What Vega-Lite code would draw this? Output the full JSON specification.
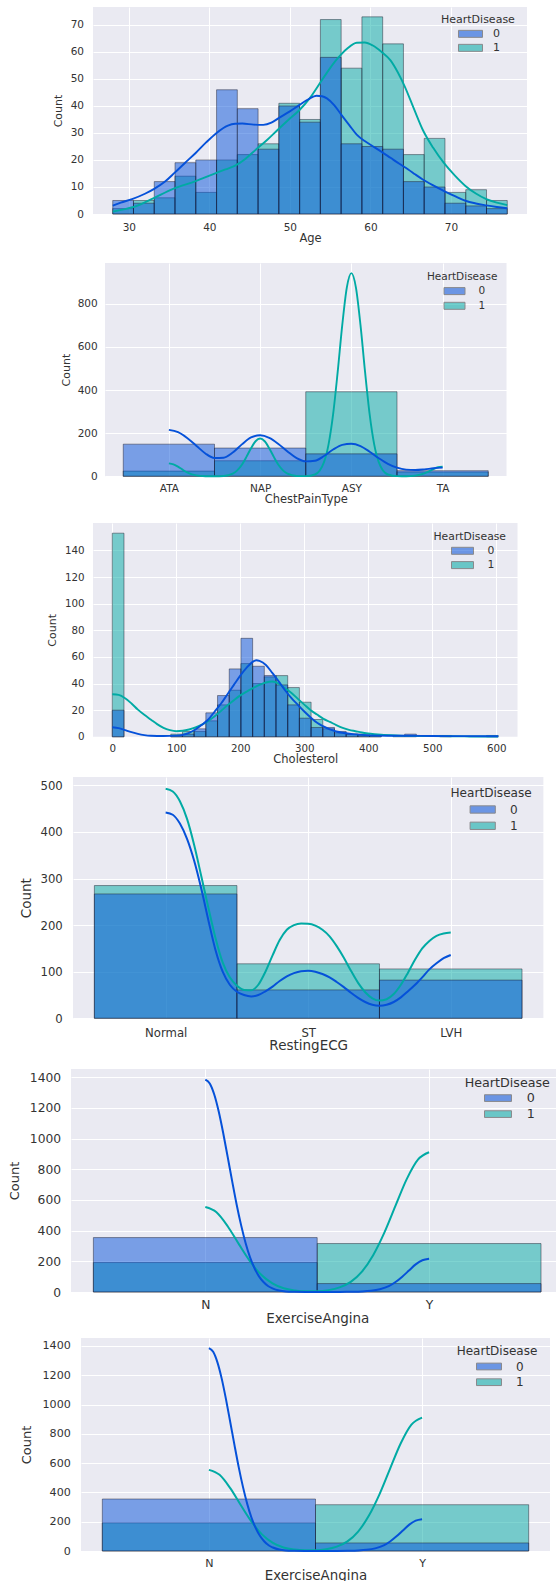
{
"$schema": "https://vega.github.io/schema/vega-lite/v6.json",
"background": "white",
"padding": {"left": 0, "top": 7, "right": 0, "bottom": 0},
"spacing": 0,
"resolve": {"scale": {"color": "independent"}, "legend": {"color": "independent"}},
"config": {
  "font": "DejaVu Sans",
  "view": {"fill": "#EAEAF2", "stroke": null},
  "axis": {"domain": false, "ticks": false, "grid": true, "gridColor": "#ffffff", "gridWidth": 1, "labelColor": "#333333", "titleColor": "#333333", "titleFontWeight": "normal", "labelFont": "DejaVu Sans", "titleFont": "DejaVu Sans", "labelFlush": false, "labelOverlap": false, "titlePadding": 0},
  "legend": {"titleFont": "DejaVu Sans", "labelFont": "DejaVu Sans", "titleFontWeight": "normal", "titleColor": "#333333", "labelColor": "#333333", "orient": "none", "padding": 0, "symbolStrokeColor": "#3a3a3a", "symbolStrokeWidth": 1, "symbolOpacity": 0.55}
},
"vconcat": [
{"spacing": 0, "resolve": {"scale": {"color": "independent"}, "legend": {"color": "independent"}}, "hconcat": [
{"width": 51.35, "height": 1, "view": {"fill": null, "stroke": null}, "data": {"values": []}, "mark": {"type": "point", "opacity": 0}, "encoding": {}},
{
  "width": 434, "height": 207,
  "encoding": {
    "x": {"field": "x", "type": "quantitative", "scale": {"domain": [25.55, 79.45], "nice": false, "zero": false},
      "axis": {"values": [30, 40, 50, 60, 70], "labelFontSize": 10.5, "labelPadding": 8, "title": ["Age", " "], "titleFontSize": 11.5, "titleBaseline": "top", "titleLineHeight": 18.5, "minExtent": 18.25, "maxExtent": 18.25}},
    "y": {"field": "count", "type": "quantitative", "stack": null, "scale": {"domain": [0, 76.65], "nice": false},
      "axis": {"values": [0, 10, 20, 30, 40, 50, 60, 70], "format": "d", "labelFontSize": 10.5, "labelPadding": 9.5, "title": "Count", "titleFontSize": 11, "titleBaseline": "bottom", "minExtent": 29.65, "maxExtent": 29.65}}
  },
  "layer": [
    {"data": {"name": "p1_hist"}, "transform": [{"filter": "datum.hd == '1'"}], "mark": {"type": "rect", "fillOpacity": 0.5, "stroke": "#1a1a2a", "strokeOpacity": 0.45, "strokeWidth": 1},
     "encoding": {"x2": {"field": "x2"}, "y2": {"datum": 0}, "color": {"field": "hd", "type": "nominal", "scale": {"domain": ["0", "1"], "range": ["#0551d9", "#00aaa4"]},
       "legend": {"title": "HeartDisease", "legendX": 348, "legendY": 7.35, "titleFontSize": 11, "labelFontSize": 11, "titlePadding": 2, "rowPadding": 2, "symbolSize": 144, "symbolType": "M1.833,-0.583H5.833V0.583H1.833Z", "labelOffset": 39}}}},
    {"data": {"name": "p1_hist"}, "transform": [{"filter": "datum.hd == '0'"}], "mark": {"type": "rect", "fillOpacity": 0.5, "stroke": "#1a1a2a", "strokeOpacity": 0.45, "strokeWidth": 1},
     "encoding": {"x2": {"field": "x2"}, "y2": {"datum": 0}, "color": {"field": "hd", "type": "nominal", "scale": {"domain": ["0", "1"], "range": ["#0551d9", "#00aaa4"]},
       "legend": {"title": "HeartDisease", "legendX": 348, "legendY": 7.35, "titleFontSize": 11, "labelFontSize": 11, "titlePadding": 2, "rowPadding": 2, "symbolSize": 144, "symbolType": "M1.833,-0.583H5.833V0.583H1.833Z", "labelOffset": 39}}}},
    {"data": {"name": "p1_kde"}, "transform": [{"filter": "datum.hd == '1'"}], "mark": {"type": "line", "color": "#00aaa4", "strokeWidth": 1.9, "interpolate": "monotone"}, "encoding": {}},
    {"data": {"name": "p1_kde"}, "transform": [{"filter": "datum.hd == '0'"}], "mark": {"type": "line", "color": "#0551d9", "strokeWidth": 1.9, "interpolate": "monotone"}, "encoding": {}}
  ]
}]},
{"spacing": 0, "resolve": {"scale": {"color": "independent"}, "legend": {"color": "independent"}}, "hconcat": [
{"width": 59.45, "height": 1, "view": {"fill": null, "stroke": null}, "data": {"values": []}, "mark": {"type": "point", "opacity": 0}, "encoding": {}},
{
  "width": 401.5, "height": 213.3,
  "encoding": {
    "x": {"field": "x", "type": "quantitative", "scale": {"domain": [-0.7, 3.7], "nice": false, "zero": false},
      "axis": {"values": [0, 1, 2, 3], "labelExpr": "['ATA','NAP','ASY','TA'][datum.value]", "labelFontSize": 10.5, "labelPadding": 6.9, "title": ["ChestPainType", " "], "titleFontSize": 11.5, "titleBaseline": "top", "titleLineHeight": 17.5, "minExtent": 17.25, "maxExtent": 17.25}},
    "y": {"field": "count", "type": "quantitative", "stack": null, "scale": {"domain": [0, 989], "nice": false},
      "axis": {"values": [0, 200, 400, 600, 800], "format": "d", "labelFontSize": 10.5, "labelPadding": 7.8, "title": "Count", "titleFontSize": 11, "titleBaseline": "bottom", "minExtent": 33.05, "maxExtent": 33.05}}
  },
  "layer": [
    {"data": {"name": "p2_hist"}, "transform": [{"filter": "datum.hd == '1'"}], "mark": {"type": "rect", "fillOpacity": 0.5, "stroke": "#1a1a2a", "strokeOpacity": 0.45, "strokeWidth": 1},
     "encoding": {"x2": {"field": "x2"}, "y2": {"datum": 0}, "color": {"field": "hd", "type": "nominal", "scale": {"domain": ["0", "1"], "range": ["#0551d9", "#00aaa4"]},
       "legend": {"title": "HeartDisease", "legendX": 321.9, "legendY": 8.6, "titleFontSize": 10.5, "labelFontSize": 10.5, "titlePadding": 2.5, "rowPadding": 2.7, "symbolSize": 144, "symbolType": "M1.767,-0.583H5.267V0.583H1.767Z", "labelOffset": 38.6}}}},
    {"data": {"name": "p2_hist"}, "transform": [{"filter": "datum.hd == '0'"}], "mark": {"type": "rect", "fillOpacity": 0.5, "stroke": "#1a1a2a", "strokeOpacity": 0.45, "strokeWidth": 1},
     "encoding": {"x2": {"field": "x2"}, "y2": {"datum": 0}, "color": {"field": "hd", "type": "nominal", "scale": {"domain": ["0", "1"], "range": ["#0551d9", "#00aaa4"]},
       "legend": {"title": "HeartDisease", "legendX": 321.9, "legendY": 8.6, "titleFontSize": 10.5, "labelFontSize": 10.5, "titlePadding": 2.5, "rowPadding": 2.7, "symbolSize": 144, "symbolType": "M1.767,-0.583H5.267V0.583H1.767Z", "labelOffset": 38.6}}}},
    {"data": {"name": "p2_kde"}, "transform": [{"filter": "datum.hd == '1'"}], "mark": {"type": "line", "color": "#00aaa4", "strokeWidth": 1.9, "interpolate": "monotone"}, "encoding": {}},
    {"data": {"name": "p2_kde"}, "transform": [{"filter": "datum.hd == '0'"}], "mark": {"type": "line", "color": "#0551d9", "strokeWidth": 1.9, "interpolate": "monotone"}, "encoding": {}}
  ]
}]},
{"spacing": 0, "resolve": {"scale": {"color": "independent"}, "legend": {"color": "independent"}}, "hconcat": [
{"width": 45.45, "height": 1, "view": {"fill": null, "stroke": null}, "data": {"values": []}, "mark": {"type": "point", "opacity": 0}, "encoding": {}},
{
  "width": 424.5, "height": 213.8,
  "encoding": {
    "x": {"field": "x", "type": "quantitative", "scale": {"domain": [-30.15, 633.15], "nice": false, "zero": false},
      "axis": {"values": [0, 100, 200, 300, 400, 500, 600], "format": "d", "labelFontSize": 10.3, "labelPadding": 6.5, "title": ["Cholesterol", " "], "titleFontSize": 11.5, "titleBaseline": "top", "titleLineHeight": 11, "minExtent": 16.75, "maxExtent": 16.75}},
    "y": {"field": "count", "type": "quantitative", "stack": null, "scale": {"domain": [0, 160.65], "nice": false},
      "axis": {"values": [0, 20, 40, 60, 80, 100, 120, 140], "format": "d", "labelFontSize": 10.3, "labelPadding": 8.9, "title": "Count", "titleFontSize": 11, "titleBaseline": "bottom", "minExtent": 35.05, "maxExtent": 35.05}}
  },
  "layer": [
    {"data": {"name": "p3_hist"}, "transform": [{"filter": "datum.hd == '1'"}], "mark": {"type": "rect", "fillOpacity": 0.5, "stroke": "#1a1a2a", "strokeOpacity": 0.45, "strokeWidth": 1},
     "encoding": {"x2": {"field": "x2"}, "y2": {"datum": 0}, "color": {"field": "hd", "type": "nominal", "scale": {"domain": ["0", "1"], "range": ["#0551d9", "#00aaa4"]},
       "legend": {"title": "HeartDisease", "legendX": 340.5, "legendY": 7.74, "titleFontSize": 10.8, "labelFontSize": 10.8, "titlePadding": 2.76, "rowPadding": 2.3, "symbolSize": 144, "symbolType": "M1.917,-0.583H5.583V0.583H1.917Z", "labelOffset": 41}}}},
    {"data": {"name": "p3_hist"}, "transform": [{"filter": "datum.hd == '0'"}], "mark": {"type": "rect", "fillOpacity": 0.5, "stroke": "#1a1a2a", "strokeOpacity": 0.45, "strokeWidth": 1},
     "encoding": {"x2": {"field": "x2"}, "y2": {"datum": 0}, "color": {"field": "hd", "type": "nominal", "scale": {"domain": ["0", "1"], "range": ["#0551d9", "#00aaa4"]},
       "legend": {"title": "HeartDisease", "legendX": 340.5, "legendY": 7.74, "titleFontSize": 10.8, "labelFontSize": 10.8, "titlePadding": 2.76, "rowPadding": 2.3, "symbolSize": 144, "symbolType": "M1.917,-0.583H5.583V0.583H1.917Z", "labelOffset": 41}}}},
    {"data": {"name": "p3_kde"}, "transform": [{"filter": "datum.hd == '1'"}], "mark": {"type": "line", "color": "#00aaa4", "strokeWidth": 1.9, "interpolate": "monotone"}, "encoding": {}},
    {"data": {"name": "p3_kde"}, "transform": [{"filter": "datum.hd == '0'"}], "mark": {"type": "line", "color": "#0551d9", "strokeWidth": 1.9, "interpolate": "monotone"}, "encoding": {}}
  ]
}]},
{"spacing": 0, "resolve": {"scale": {"color": "independent"}, "legend": {"color": "independent"}}, "hconcat": [
{"width": 18.7, "height": 1, "view": {"fill": null, "stroke": null}, "data": {"values": []}, "mark": {"type": "point", "opacity": 0}, "encoding": {}},
{
  "width": 470.4, "height": 241.3,
  "encoding": {
    "x": {"field": "x", "type": "quantitative", "scale": {"domain": [-0.65, 2.65], "nice": false, "zero": false},
      "axis": {"values": [0, 1, 2], "labelExpr": "['Normal','ST','LVH'][datum.value]", "labelFontSize": 11.7, "labelPadding": 8.7, "title": ["RestingECG", " "], "titleFontSize": 13.5, "titleBaseline": "top", "titleLineHeight": 16.85, "minExtent": 20.25, "maxExtent": 20.25}},
    "y": {"field": "count", "type": "quantitative", "stack": null, "scale": {"domain": [0, 518], "nice": false},
      "axis": {"values": [0, 100, 200, 300, 400, 500], "format": "d", "labelFontSize": 11.7, "labelPadding": 10.7, "title": "Count", "titleFontSize": 13.5, "titleBaseline": "bottom", "minExtent": 39.33, "maxExtent": 39.33}}
  },
  "layer": [
    {"data": {"name": "p4_hist"}, "transform": [{"filter": "datum.hd == '1'"}], "mark": {"type": "rect", "fillOpacity": 0.5, "stroke": "#1a1a2a", "strokeOpacity": 0.45, "strokeWidth": 1},
     "encoding": {"x2": {"field": "x2"}, "y2": {"datum": 0}, "color": {"field": "hd", "type": "nominal", "scale": {"domain": ["0", "1"], "range": ["#0551d9", "#00aaa4"]},
       "legend": {"title": "HeartDisease", "legendX": 377.5, "legendY": 10.15, "titleFontSize": 12.1, "labelFontSize": 12.1, "titlePadding": 2.75, "rowPadding": 2.3, "symbolSize": 196, "symbolType": "M1.729,-0.524H5.329V0.524H1.729Z", "labelOffset": 44.5}}}},
    {"data": {"name": "p4_hist"}, "transform": [{"filter": "datum.hd == '0'"}], "mark": {"type": "rect", "fillOpacity": 0.5, "stroke": "#1a1a2a", "strokeOpacity": 0.45, "strokeWidth": 1},
     "encoding": {"x2": {"field": "x2"}, "y2": {"datum": 0}, "color": {"field": "hd", "type": "nominal", "scale": {"domain": ["0", "1"], "range": ["#0551d9", "#00aaa4"]},
       "legend": {"title": "HeartDisease", "legendX": 377.5, "legendY": 10.15, "titleFontSize": 12.1, "labelFontSize": 12.1, "titlePadding": 2.75, "rowPadding": 2.3, "symbolSize": 196, "symbolType": "M1.729,-0.524H5.329V0.524H1.729Z", "labelOffset": 44.5}}}},
    {"data": {"name": "p4_kde"}, "transform": [{"filter": "datum.hd == '1'"}], "mark": {"type": "line", "color": "#00aaa4", "strokeWidth": 2, "interpolate": "monotone"}, "encoding": {}},
    {"data": {"name": "p4_kde"}, "transform": [{"filter": "datum.hd == '0'"}], "mark": {"type": "line", "color": "#0551d9", "strokeWidth": 2, "interpolate": "monotone"}, "encoding": {}}
  ]
}]},
{"spacing": 0, "resolve": {"scale": {"color": "independent"}, "legend": {"color": "independent"}}, "hconcat": [
{"width": 7.85, "height": 1, "view": {"fill": null, "stroke": null}, "data": {"values": []}, "mark": {"type": "point", "opacity": 0}, "encoding": {}},
{
  "width": 486, "height": 223,
  "encoding": {
    "x": {"field": "x", "type": "quantitative", "scale": {"domain": [-0.6, 1.5714], "nice": false, "zero": false},
      "axis": {"values": [0, 1], "labelExpr": "['N','Y'][datum.value]", "labelFontSize": 12.3, "labelPadding": 6.8, "title": ["ExerciseAngina", " "], "titleFontSize": 13.5, "titleBaseline": "top", "titleLineHeight": 12.5, "titleX": 246.3, "minExtent": 19.55, "maxExtent": 19.55}},
    "y": {"field": "count", "type": "quantitative", "stack": null, "scale": {"domain": [0, 1454.25], "nice": false},
      "axis": {"values": [0, 200, 400, 600, 800, 1000, 1200, 1400], "format": "d", "labelFontSize": 12.3, "labelPadding": 10.4, "title": "Count", "titleFontSize": 13, "titleBaseline": "bottom", "minExtent": 49.15, "maxExtent": 49.15}}
  },
  "layer": [
    {"data": {"name": "p5_hist"}, "transform": [{"filter": "datum.hd == '1'"}], "mark": {"type": "rect", "fillOpacity": 0.5, "stroke": "#1a1a2a", "strokeOpacity": 0.45, "strokeWidth": 1},
     "encoding": {"x2": {"field": "x2"}, "y2": {"datum": 0}, "color": {"field": "hd", "type": "nominal", "scale": {"domain": ["0", "1"], "range": ["#0551d9", "#00aaa4"]},
       "legend": {"title": "HeartDisease", "legendX": 393.7, "legendY": 8, "titleFontSize": 12.7, "labelFontSize": 12.7, "titlePadding": 1.4, "rowPadding": 2, "symbolSize": 169, "symbolType": "M1.97,-0.515H6.12V0.515H1.97Z", "labelOffset": 48}}}},
    {"data": {"name": "p5_hist"}, "transform": [{"filter": "datum.hd == '0'"}], "mark": {"type": "rect", "fillOpacity": 0.5, "stroke": "#1a1a2a", "strokeOpacity": 0.45, "strokeWidth": 1},
     "encoding": {"x2": {"field": "x2"}, "y2": {"datum": 0}, "color": {"field": "hd", "type": "nominal", "scale": {"domain": ["0", "1"], "range": ["#0551d9", "#00aaa4"]},
       "legend": {"title": "HeartDisease", "legendX": 393.7, "legendY": 8, "titleFontSize": 12.7, "labelFontSize": 12.7, "titlePadding": 1.4, "rowPadding": 2, "symbolSize": 169, "symbolType": "M1.97,-0.515H6.12V0.515H1.97Z", "labelOffset": 48}}}},
    {"data": {"name": "p5_kde"}, "transform": [{"filter": "datum.hd == '1'"}], "mark": {"type": "line", "color": "#00aaa4", "strokeWidth": 2, "interpolate": "monotone"}, "encoding": {}},
    {"data": {"name": "p5_kde"}, "transform": [{"filter": "datum.hd == '0'"}], "mark": {"type": "line", "color": "#0551d9", "strokeWidth": 2, "interpolate": "monotone"}, "encoding": {}}
  ]
}]},
{"spacing": 0, "resolve": {"scale": {"color": "independent"}, "legend": {"color": "independent"}}, "hconcat": [
{"width": 19.65, "height": 1, "view": {"fill": null, "stroke": null}, "data": {"values": []}, "mark": {"type": "point", "opacity": 0}, "encoding": {}},
{
  "width": 469, "height": 213,
  "encoding": {
    "x": {"field": "x", "type": "quantitative", "scale": {"domain": [-0.6, 1.6], "nice": false, "zero": false},
      "axis": {"values": [0, 1], "labelExpr": "['N','Y'][datum.value]", "labelFontSize": 11.1, "labelPadding": 6.3, "title": "ExerciseAngina", "titleFontSize": 13.4, "titleBaseline": "top", "minExtent": 17, "maxExtent": 17}},
    "y": {"field": "count", "type": "quantitative", "stack": null, "scale": {"domain": [0, 1454.25], "nice": false},
      "axis": {"values": [0, 200, 400, 600, 800, 1000, 1200, 1400], "format": "d", "labelFontSize": 11.1, "labelPadding": 10.7, "title": "Count", "titleFontSize": 13, "titleBaseline": "bottom", "minExtent": 47.15, "maxExtent": 47.15}}
  },
  "layer": [
    {"data": {"name": "p5_hist"}, "transform": [{"filter": "datum.hd == '1'"}], "mark": {"type": "rect", "fillOpacity": 0.5, "stroke": "#1a1a2a", "strokeOpacity": 0.45, "strokeWidth": 1},
     "encoding": {"x2": {"field": "x2"}, "y2": {"datum": 0}, "color": {"field": "hd", "type": "nominal", "scale": {"domain": ["0", "1"], "range": ["#0551d9", "#00aaa4"]},
       "legend": {"title": "HeartDisease", "legendX": 375.7, "legendY": 7.9, "titleFontSize": 12, "labelFontSize": 12, "titlePadding": 2.1, "rowPadding": 2.7, "symbolSize": 144, "symbolType": "M2.217,-0.56H6.383V0.56H2.217Z", "labelOffset": 46.3}}}},
    {"data": {"name": "p5_hist"}, "transform": [{"filter": "datum.hd == '0'"}], "mark": {"type": "rect", "fillOpacity": 0.5, "stroke": "#1a1a2a", "strokeOpacity": 0.45, "strokeWidth": 1},
     "encoding": {"x2": {"field": "x2"}, "y2": {"datum": 0}, "color": {"field": "hd", "type": "nominal", "scale": {"domain": ["0", "1"], "range": ["#0551d9", "#00aaa4"]},
       "legend": {"title": "HeartDisease", "legendX": 375.7, "legendY": 7.9, "titleFontSize": 12, "labelFontSize": 12, "titlePadding": 2.1, "rowPadding": 2.7, "symbolSize": 144, "symbolType": "M2.217,-0.56H6.383V0.56H2.217Z", "labelOffset": 46.3}}}},
    {"data": {"name": "p5_kde"}, "transform": [{"filter": "datum.hd == '1'"}], "mark": {"type": "line", "color": "#00aaa4", "strokeWidth": 2, "interpolate": "monotone"}, "encoding": {}},
    {"data": {"name": "p5_kde"}, "transform": [{"filter": "datum.hd == '0'"}], "mark": {"type": "line", "color": "#0551d9", "strokeWidth": 2, "interpolate": "monotone"}, "encoding": {}}
  ]
}]}
],
"datasets": {
"p1_hist": [
{"x":28,"x2":30.579,"hd":"0","count":5},{"x":28,"x2":30.579,"hd":"1","count":2},
{"x":30.579,"x2":33.158,"hd":"0","count":4},{"x":30.579,"x2":33.158,"hd":"1","count":5},
{"x":33.158,"x2":35.737,"hd":"0","count":12},{"x":33.158,"x2":35.737,"hd":"1","count":6},
{"x":35.737,"x2":38.316,"hd":"0","count":19},{"x":35.737,"x2":38.316,"hd":"1","count":14},
{"x":38.316,"x2":40.895,"hd":"0","count":20},{"x":38.316,"x2":40.895,"hd":"1","count":8},
{"x":40.895,"x2":43.474,"hd":"0","count":46},{"x":40.895,"x2":43.474,"hd":"1","count":20},
{"x":43.474,"x2":46.053,"hd":"0","count":39},{"x":43.474,"x2":46.053,"hd":"1","count":22},
{"x":46.053,"x2":48.632,"hd":"0","count":24},{"x":46.053,"x2":48.632,"hd":"1","count":26},
{"x":48.632,"x2":51.211,"hd":"0","count":40},{"x":48.632,"x2":51.211,"hd":"1","count":41},
{"x":51.211,"x2":53.789,"hd":"0","count":34},{"x":51.211,"x2":53.789,"hd":"1","count":35},
{"x":53.789,"x2":56.368,"hd":"0","count":58},{"x":53.789,"x2":56.368,"hd":"1","count":72},
{"x":56.368,"x2":58.947,"hd":"0","count":26},{"x":56.368,"x2":58.947,"hd":"1","count":54},
{"x":58.947,"x2":61.526,"hd":"0","count":25},{"x":58.947,"x2":61.526,"hd":"1","count":73},
{"x":61.526,"x2":64.105,"hd":"0","count":24},{"x":61.526,"x2":64.105,"hd":"1","count":63},
{"x":64.105,"x2":66.684,"hd":"0","count":12},{"x":64.105,"x2":66.684,"hd":"1","count":22},
{"x":66.684,"x2":69.263,"hd":"0","count":10},{"x":66.684,"x2":69.263,"hd":"1","count":28},
{"x":69.263,"x2":71.842,"hd":"0","count":4},{"x":69.263,"x2":71.842,"hd":"1","count":8},
{"x":71.842,"x2":74.421,"hd":"0","count":3},{"x":71.842,"x2":74.421,"hd":"1","count":9},
{"x":74.421,"x2":77,"hd":"0","count":2},{"x":74.421,"x2":77,"hd":"1","count":5}
],
"p1_kde": [
{"x":28,"hd":"0","count":3.1},{"x":29,"hd":"0","count":4.2},{"x":30.4,"hd":"0","count":5.5},{"x":32,"hd":"0","count":7.5},{"x":33.1,"hd":"0","count":9.2},{"x":34.5,"hd":"0","count":12},{"x":35.7,"hd":"0","count":15.3},{"x":37,"hd":"0","count":19},{"x":38.3,"hd":"0","count":22.6},{"x":39.6,"hd":"0","count":26.5},{"x":40.9,"hd":"0","count":30},{"x":42.3,"hd":"0","count":32.7},{"x":43.2,"hd":"0","count":33.4},{"x":44.1,"hd":"0","count":33.5},{"x":45.5,"hd":"0","count":33.1},{"x":46.7,"hd":"0","count":33},{"x":47.7,"hd":"0","count":33.8},{"x":48.6,"hd":"0","count":35.5},{"x":50,"hd":"0","count":38},{"x":51.2,"hd":"0","count":40.4},{"x":52.3,"hd":"0","count":42.5},{"x":53.3,"hd":"0","count":43.8},{"x":54,"hd":"0","count":43.6},{"x":54.6,"hd":"0","count":42.8},{"x":55.5,"hd":"0","count":40.3},{"x":56.4,"hd":"0","count":36.7},{"x":57.4,"hd":"0","count":32.8},{"x":58.3,"hd":"0","count":29.4},{"x":59.3,"hd":"0","count":27},{"x":60.3,"hd":"0","count":25.1},{"x":61.4,"hd":"0","count":23},{"x":62.5,"hd":"0","count":20.8},{"x":63.6,"hd":"0","count":18.6},{"x":64.7,"hd":"0","count":16.5},{"x":65.6,"hd":"0","count":14.6},{"x":66.5,"hd":"0","count":12.8},{"x":67.8,"hd":"0","count":10.6},{"x":69.1,"hd":"0","count":8.6},{"x":70.5,"hd":"0","count":6.6},{"x":71.8,"hd":"0","count":4.9},{"x":73.1,"hd":"0","count":3.9},{"x":74.4,"hd":"0","count":3.2},{"x":75.7,"hd":"0","count":2.6},{"x":77,"hd":"0","count":2.1},
{"x":28,"hd":"1","count":0.9},{"x":29.5,"hd":"1","count":1.8},{"x":31,"hd":"1","count":3},{"x":33.1,"hd":"1","count":5.9},{"x":35.5,"hd":"1","count":9.3},{"x":38.3,"hd":"1","count":12.2},{"x":40.5,"hd":"1","count":14.8},{"x":42,"hd":"1","count":16.5},{"x":43.2,"hd":"1","count":17.9},{"x":44.5,"hd":"1","count":20.5},{"x":45.8,"hd":"1","count":23.9},{"x":47.2,"hd":"1","count":27.5},{"x":48.5,"hd":"1","count":31.2},{"x":49.8,"hd":"1","count":34.8},{"x":51.2,"hd":"1","count":38.5},{"x":52.5,"hd":"1","count":43},{"x":53.7,"hd":"1","count":48.3},{"x":54.8,"hd":"1","count":53.2},{"x":55.9,"hd":"1","count":57.5},{"x":57.1,"hd":"1","count":61.2},{"x":58.3,"hd":"1","count":63.4},{"x":59.3,"hd":"1","count":63.5},{"x":60.3,"hd":"1","count":62.4},{"x":61.4,"hd":"1","count":60},{"x":62.5,"hd":"1","count":56.9},{"x":63.4,"hd":"1","count":52.5},{"x":64.3,"hd":"1","count":47},{"x":65.4,"hd":"1","count":39},{"x":66.5,"hd":"1","count":31.2},{"x":67.8,"hd":"1","count":24.5},{"x":69.1,"hd":"1","count":19},{"x":70.5,"hd":"1","count":14.2},{"x":71.8,"hd":"1","count":10.4},{"x":73.1,"hd":"1","count":7.6},{"x":74.4,"hd":"1","count":5.5},{"x":75.7,"hd":"1","count":4.2},{"x":77,"hd":"1","count":3.3}
],
"p2_hist": [
{"x":-0.5,"x2":0.5,"hd":"0","count":149},{"x":-0.5,"x2":0.5,"hd":"1","count":24},
{"x":0.5,"x2":1.5,"hd":"0","count":131},{"x":0.5,"x2":1.5,"hd":"1","count":72},
{"x":1.5,"x2":2.5,"hd":"0","count":104},{"x":1.5,"x2":2.5,"hd":"1","count":392},
{"x":2.5,"x2":3.5,"hd":"0","count":26},{"x":2.5,"x2":3.5,"hd":"1","count":20}
],
"p2_kde": [
{"x":0,"hd":"1","count":60},{"x":0.05,"hd":"1","count":55.7},{"x":0.1,"hd":"1","count":44.6},{"x":0.15,"hd":"1","count":30.8},{"x":0.2,"hd":"1","count":18.4},{"x":0.3,"hd":"1","count":4},{"x":0.4,"hd":"1","count":0.5},{"x":0.5,"hd":"1","count":0.1},{"x":0.6,"hd":"1","count":1.5},{"x":0.7,"hd":"1","count":12.3},{"x":0.8,"hd":"1","count":53.6},{"x":0.85,"hd":"1","count":90},{"x":0.9,"hd":"1","count":130},{"x":0.95,"hd":"1","count":162.6},{"x":1,"hd":"1","count":175},{"x":1.05,"hd":"1","count":162.6},{"x":1.1,"hd":"1","count":130},{"x":1.15,"hd":"1","count":90},{"x":1.2,"hd":"1","count":53.6},{"x":1.3,"hd":"1","count":12.3},{"x":1.4,"hd":"1","count":1.5},{"x":1.5,"hd":"1","count":0.7},{"x":1.6,"hd":"1","count":8.3},{"x":1.7,"hd":"1","count":66},{"x":1.75,"hd":"1","count":148},{"x":1.8,"hd":"1","count":288},{"x":1.85,"hd":"1","count":484},{"x":1.9,"hd":"1","count":701},{"x":1.95,"hd":"1","count":875},{"x":2,"hd":"1","count":942},{"x":2.05,"hd":"1","count":875},{"x":2.1,"hd":"1","count":701},{"x":2.15,"hd":"1","count":484},{"x":2.2,"hd":"1","count":288},{"x":2.25,"hd":"1","count":148},{"x":2.3,"hd":"1","count":66},{"x":2.4,"hd":"1","count":8.3},{"x":2.5,"hd":"1","count":0.6},{"x":2.6,"hd":"1","count":0.4},{"x":2.7,"hd":"1","count":3.2},{"x":2.8,"hd":"1","count":13.8},{"x":2.85,"hd":"1","count":23.1},{"x":2.9,"hd":"1","count":33.5},{"x":2.95,"hd":"1","count":41.8},{"x":3,"hd":"1","count":45},
{"x":0,"hd":"0","count":215},{"x":0.1,"hd":"0","count":205},{"x":0.2,"hd":"0","count":178},{"x":0.3,"hd":"0","count":142},{"x":0.4,"hd":"0","count":106},{"x":0.5,"hd":"0","count":85},{"x":0.6,"hd":"0","count":86},{"x":0.7,"hd":"0","count":110},{"x":0.8,"hd":"0","count":148},{"x":0.9,"hd":"0","count":180},{"x":1,"hd":"0","count":190},{"x":1.1,"hd":"0","count":178},{"x":1.2,"hd":"0","count":150},{"x":1.3,"hd":"0","count":115},{"x":1.4,"hd":"0","count":84},{"x":1.5,"hd":"0","count":69},{"x":1.6,"hd":"0","count":72},{"x":1.7,"hd":"0","count":94},{"x":1.8,"hd":"0","count":124},{"x":1.9,"hd":"0","count":146},{"x":2,"hd":"0","count":151},{"x":2.1,"hd":"0","count":140},{"x":2.2,"hd":"0","count":114},{"x":2.3,"hd":"0","count":84},{"x":2.4,"hd":"0","count":58},{"x":2.5,"hd":"0","count":40},{"x":2.6,"hd":"0","count":31},{"x":2.7,"hd":"0","count":29},{"x":2.8,"hd":"0","count":32},{"x":2.9,"hd":"0","count":37},{"x":3,"hd":"0","count":40}
],
"p3_hist": [
{"x":0,"x2":18.273,"hd":"0","count":20},{"x":0,"x2":18.273,"hd":"1","count":153},
{"x":91.364,"x2":109.636,"hd":"0","count":1},{"x":91.364,"x2":109.636,"hd":"1","count":2},
{"x":109.636,"x2":127.909,"hd":"0","count":2},{"x":109.636,"x2":127.909,"hd":"1","count":4},
{"x":127.909,"x2":146.182,"hd":"0","count":6},{"x":127.909,"x2":146.182,"hd":"1","count":4},
{"x":146.182,"x2":164.455,"hd":"0","count":18},{"x":146.182,"x2":164.455,"hd":"1","count":12},
{"x":164.455,"x2":182.727,"hd":"0","count":31},{"x":164.455,"x2":182.727,"hd":"1","count":24},
{"x":182.727,"x2":201,"hd":"0","count":51},{"x":182.727,"x2":201,"hd":"1","count":35},
{"x":201,"x2":219.273,"hd":"0","count":74},{"x":201,"x2":219.273,"hd":"1","count":55},
{"x":219.273,"x2":237.545,"hd":"0","count":53},{"x":219.273,"x2":237.545,"hd":"1","count":40},
{"x":237.545,"x2":255.818,"hd":"0","count":46},{"x":237.545,"x2":255.818,"hd":"1","count":45},
{"x":255.818,"x2":274.091,"hd":"0","count":39},{"x":255.818,"x2":274.091,"hd":"1","count":46},
{"x":274.091,"x2":292.364,"hd":"0","count":24},{"x":274.091,"x2":292.364,"hd":"1","count":37},
{"x":292.364,"x2":310.636,"hd":"0","count":14},{"x":292.364,"x2":310.636,"hd":"1","count":26},
{"x":310.636,"x2":328.909,"hd":"0","count":7},{"x":310.636,"x2":328.909,"hd":"1","count":13},
{"x":328.909,"x2":347.182,"hd":"0","count":7},{"x":328.909,"x2":347.182,"hd":"1","count":6},
{"x":347.182,"x2":365.455,"hd":"0","count":4},{"x":347.182,"x2":365.455,"hd":"1","count":3},
{"x":365.455,"x2":383.727,"hd":"0","count":2},{"x":365.455,"x2":383.727,"hd":"1","count":2},
{"x":383.727,"x2":402,"hd":"0","count":2},{"x":383.727,"x2":402,"hd":"1","count":1},
{"x":402,"x2":420.273,"hd":"0","count":1},{"x":402,"x2":420.273,"hd":"1","count":1},
{"x":438.545,"x2":456.818,"hd":"1","count":1},
{"x":456.818,"x2":475.091,"hd":"0","count":2},
{"x":511.636,"x2":529.909,"hd":"1","count":1},
{"x":584.727,"x2":603,"hd":"0","count":1}
],
"p3_kde": [
{"x":0,"hd":"0","count":7.2},{"x":10,"hd":"0","count":6.5},{"x":20,"hd":"0","count":5},{"x":30,"hd":"0","count":3.5},{"x":40,"hd":"0","count":2.2},{"x":50,"hd":"0","count":1.3},{"x":60,"hd":"0","count":0.8},{"x":80,"hd":"0","count":0.6},{"x":100,"hd":"0","count":0.9},{"x":110,"hd":"0","count":1.5},{"x":120,"hd":"0","count":3},{"x":130,"hd":"0","count":5.5},{"x":140,"hd":"0","count":9},{"x":150,"hd":"0","count":13},{"x":160,"hd":"0","count":19},{"x":170,"hd":"0","count":25},{"x":180,"hd":"0","count":32},{"x":190,"hd":"0","count":39},{"x":200,"hd":"0","count":46},{"x":210,"hd":"0","count":52},{"x":220,"hd":"0","count":56.5},{"x":225,"hd":"0","count":57.5},{"x":230,"hd":"0","count":57},{"x":240,"hd":"0","count":54},{"x":250,"hd":"0","count":48},{"x":260,"hd":"0","count":41.6},{"x":270,"hd":"0","count":35},{"x":280,"hd":"0","count":29},{"x":290,"hd":"0","count":24},{"x":300,"hd":"0","count":19},{"x":310,"hd":"0","count":14.5},{"x":320,"hd":"0","count":10.5},{"x":330,"hd":"0","count":7.8},{"x":340,"hd":"0","count":5.5},{"x":350,"hd":"0","count":4},{"x":360,"hd":"0","count":3},{"x":380,"hd":"0","count":1.8},{"x":400,"hd":"0","count":1.1},{"x":430,"hd":"0","count":0.8},{"x":460,"hd":"0","count":0.8},{"x":500,"hd":"0","count":0.6},{"x":550,"hd":"0","count":0.5},{"x":603,"hd":"0","count":0.4},
{"x":0,"hd":"1","count":32},{"x":10,"hd":"1","count":31.5},{"x":20,"hd":"1","count":29},{"x":30,"hd":"1","count":25},{"x":40,"hd":"1","count":20.4},{"x":50,"hd":"1","count":16.5},{"x":60,"hd":"1","count":13},{"x":70,"hd":"1","count":9.5},{"x":80,"hd":"1","count":6.7},{"x":90,"hd":"1","count":5},{"x":100,"hd":"1","count":4.2},{"x":110,"hd":"1","count":4.5},{"x":120,"hd":"1","count":5.5},{"x":130,"hd":"1","count":7},{"x":140,"hd":"1","count":9.2},{"x":150,"hd":"1","count":12},{"x":160,"hd":"1","count":15.4},{"x":170,"hd":"1","count":19.5},{"x":180,"hd":"1","count":23.7},{"x":190,"hd":"1","count":27.5},{"x":200,"hd":"1","count":31.1},{"x":210,"hd":"1","count":34},{"x":220,"hd":"1","count":36.6},{"x":230,"hd":"1","count":39},{"x":240,"hd":"1","count":40.8},{"x":250,"hd":"1","count":41.5},{"x":260,"hd":"1","count":40},{"x":270,"hd":"1","count":36.5},{"x":280,"hd":"1","count":32.9},{"x":290,"hd":"1","count":28.5},{"x":300,"hd":"1","count":24.2},{"x":310,"hd":"1","count":20},{"x":320,"hd":"1","count":16.7},{"x":330,"hd":"1","count":13.5},{"x":340,"hd":"1","count":11.2},{"x":350,"hd":"1","count":8.8},{"x":360,"hd":"1","count":6.7},{"x":370,"hd":"1","count":5.2},{"x":380,"hd":"1","count":4.2},{"x":390,"hd":"1","count":3.2},{"x":400,"hd":"1","count":2.5},{"x":420,"hd":"1","count":1.5},{"x":450,"hd":"1","count":0.9},{"x":500,"hd":"1","count":0.5},{"x":550,"hd":"1","count":0.3},{"x":603,"hd":"1","count":0.2}
],
"p4_hist": [
{"x":-0.5,"x2":0.5,"hd":"0","count":267},{"x":-0.5,"x2":0.5,"hd":"1","count":285},
{"x":0.5,"x2":1.5,"hd":"0","count":61},{"x":0.5,"x2":1.5,"hd":"1","count":117},
{"x":1.5,"x2":2.5,"hd":"0","count":82},{"x":1.5,"x2":2.5,"hd":"1","count":106}
],
"p4_kde": [
{"x":0,"hd":"1","count":493},{"x":0.05,"hd":"1","count":487},{"x":0.1,"hd":"1","count":466},{"x":0.15,"hd":"1","count":428},{"x":0.2,"hd":"1","count":372},{"x":0.25,"hd":"1","count":305},{"x":0.3,"hd":"1","count":237},{"x":0.35,"hd":"1","count":172},{"x":0.4,"hd":"1","count":120},{"x":0.45,"hd":"1","count":88},{"x":0.5,"hd":"1","count":70},{"x":0.55,"hd":"1","count":61},{"x":0.6,"hd":"1","count":60},{"x":0.65,"hd":"1","count":72},{"x":0.7,"hd":"1","count":100},{"x":0.75,"hd":"1","count":135},{"x":0.8,"hd":"1","count":168},{"x":0.85,"hd":"1","count":190},{"x":0.9,"hd":"1","count":200},{"x":0.95,"hd":"1","count":203.5},{"x":1,"hd":"1","count":203},{"x":1.05,"hd":"1","count":199},{"x":1.1,"hd":"1","count":190},{"x":1.15,"hd":"1","count":176},{"x":1.2,"hd":"1","count":155},{"x":1.25,"hd":"1","count":130},{"x":1.3,"hd":"1","count":102},{"x":1.35,"hd":"1","count":76},{"x":1.4,"hd":"1","count":56},{"x":1.45,"hd":"1","count":43},{"x":1.5,"hd":"1","count":38},{"x":1.55,"hd":"1","count":41},{"x":1.6,"hd":"1","count":52},{"x":1.65,"hd":"1","count":72},{"x":1.7,"hd":"1","count":98},{"x":1.75,"hd":"1","count":126},{"x":1.8,"hd":"1","count":150},{"x":1.85,"hd":"1","count":166},{"x":1.9,"hd":"1","count":177},{"x":1.95,"hd":"1","count":182},{"x":2,"hd":"1","count":184},
{"x":0,"hd":"0","count":442},{"x":0.05,"hd":"0","count":437},{"x":0.1,"hd":"0","count":418},{"x":0.15,"hd":"0","count":385},{"x":0.2,"hd":"0","count":338},{"x":0.25,"hd":"0","count":278},{"x":0.3,"hd":"0","count":210},{"x":0.35,"hd":"0","count":146},{"x":0.4,"hd":"0","count":100},{"x":0.45,"hd":"0","count":72},{"x":0.5,"hd":"0","count":57},{"x":0.55,"hd":"0","count":50},{"x":0.6,"hd":"0","count":47},{"x":0.65,"hd":"0","count":50},{"x":0.7,"hd":"0","count":58},{"x":0.75,"hd":"0","count":68},{"x":0.8,"hd":"0","count":80},{"x":0.85,"hd":"0","count":90},{"x":0.9,"hd":"0","count":97},{"x":0.95,"hd":"0","count":101},{"x":1,"hd":"0","count":102},{"x":1.05,"hd":"0","count":100},{"x":1.1,"hd":"0","count":95},{"x":1.15,"hd":"0","count":88},{"x":1.2,"hd":"0","count":78},{"x":1.25,"hd":"0","count":67},{"x":1.3,"hd":"0","count":55},{"x":1.35,"hd":"0","count":44},{"x":1.4,"hd":"0","count":35},{"x":1.45,"hd":"0","count":29},{"x":1.5,"hd":"0","count":27},{"x":1.55,"hd":"0","count":29},{"x":1.6,"hd":"0","count":35},{"x":1.65,"hd":"0","count":45},{"x":1.7,"hd":"0","count":58},{"x":1.75,"hd":"0","count":72},{"x":1.8,"hd":"0","count":88},{"x":1.85,"hd":"0","count":105},{"x":1.9,"hd":"0","count":118},{"x":1.95,"hd":"0","count":129},{"x":2,"hd":"0","count":136}
],
"p5_hist": [
{"x":-0.5,"x2":0.5,"hd":"0","count":355},{"x":-0.5,"x2":0.5,"hd":"1","count":192},
{"x":0.5,"x2":1.5,"hd":"0","count":55},{"x":0.5,"x2":1.5,"hd":"1","count":316}
],
"p5_kde": [
{"x":0,"hd":"0","count":1385},{"x":0.02,"hd":"0","count":1360},{"x":0.04,"hd":"0","count":1288},{"x":0.06,"hd":"0","count":1177},{"x":0.08,"hd":"0","count":1037},{"x":0.1,"hd":"0","count":881},{"x":0.12,"hd":"0","count":723},{"x":0.14,"hd":"0","count":571},{"x":0.16,"hd":"0","count":436},{"x":0.18,"hd":"0","count":320},{"x":0.2,"hd":"0","count":226},{"x":0.22,"hd":"0","count":155},{"x":0.24,"hd":"0","count":102},{"x":0.26,"hd":"0","count":65},{"x":0.28,"hd":"0","count":39},{"x":0.3,"hd":"0","count":24},{"x":0.33,"hd":"0","count":10},{"x":0.36,"hd":"0","count":4},{"x":0.4,"hd":"0","count":1.5},{"x":0.45,"hd":"0","count":0.5},{"x":0.5,"hd":"0","count":0.3},{"x":0.6,"hd":"0","count":0.6},{"x":0.65,"hd":"0","count":1.5},{"x":0.7,"hd":"0","count":3.5},{"x":0.74,"hd":"0","count":8},{"x":0.78,"hd":"0","count":18},{"x":0.82,"hd":"0","count":38},{"x":0.85,"hd":"0","count":65},{"x":0.88,"hd":"0","count":100},{"x":0.91,"hd":"0","count":140},{"x":0.94,"hd":"0","count":180},{"x":0.97,"hd":"0","count":207},{"x":1,"hd":"0","count":217},
{"x":0,"hd":"1","count":554},{"x":0.05,"hd":"1","count":520},{"x":0.1,"hd":"1","count":429},{"x":0.15,"hd":"1","count":312},{"x":0.2,"hd":"1","count":200},{"x":0.25,"hd":"1","count":112},{"x":0.3,"hd":"1","count":56},{"x":0.35,"hd":"1","count":24},{"x":0.4,"hd":"1","count":10},{"x":0.45,"hd":"1","count":4.5},{"x":0.5,"hd":"1","count":5.4},{"x":0.55,"hd":"1","count":12.3},{"x":0.6,"hd":"1","count":30},{"x":0.65,"hd":"1","count":66},{"x":0.7,"hd":"1","count":133},{"x":0.75,"hd":"1","count":240},{"x":0.8,"hd":"1","count":387},{"x":0.85,"hd":"1","count":563},{"x":0.9,"hd":"1","count":736},{"x":0.95,"hd":"1","count":863},{"x":1,"hd":"1","count":911}
]
}
}
